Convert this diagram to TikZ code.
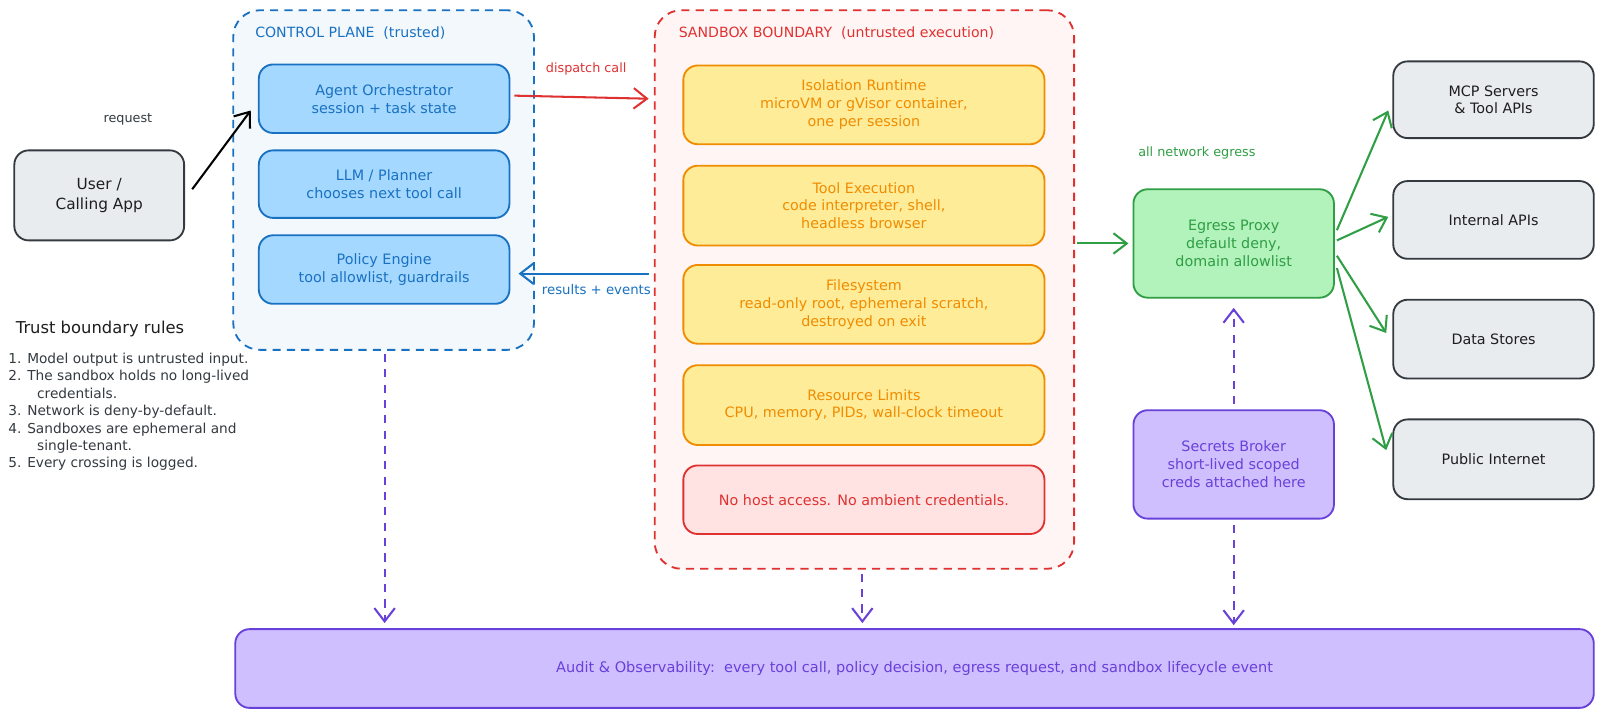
\documentclass[tikz,border=0pt]{standalone}
\usepackage{fontspec}
\setmainfont{DejaVu Sans}
\usetikzlibrary{arrows.meta}
\definecolor{cblue}{HTML}{1971C2}
\definecolor{cbluefill}{HTML}{A5D8FF}
\definecolor{cbluebg}{HTML}{F3F8FD}
\definecolor{cred}{HTML}{E03131}
\definecolor{credfill}{HTML}{FFE3E3}
\definecolor{credbg}{HTML}{FFF5F5}
\definecolor{corange}{HTML}{F08C00}
\definecolor{cyellow}{HTML}{FFEC99}
\definecolor{cgreen}{HTML}{2F9E44}
\definecolor{cgreenfill}{HTML}{B2F2BB}
\definecolor{cviolet}{HTML}{6741D9}
\definecolor{cvioletfill}{HTML}{D0BFFF}
\definecolor{cgray}{HTML}{343A40}
\definecolor{cgrayfill}{HTML}{E9ECEF}
\definecolor{cink}{HTML}{1E1E1E}
\begin{document}
\begin{tikzpicture}[x=1pt,y=-1pt,
  box/.style={rounded corners=14pt, line width=1.8pt, align=center, inner sep=2pt,
    font=\fontsize{14}{17.5}\selectfont},
  bluebox/.style={box, draw=cblue, fill=cbluefill, text=cblue, minimum width=245pt},
  yellowbox/.style={box, draw=corange, fill=cyellow, text=corange, minimum width=353pt},
  redbox/.style={box, draw=cred, fill=credfill, text=cred, minimum width=353pt},
  graybox/.style={box, draw=cgray, fill=cgrayfill, text=cink, minimum width=196pt},
  greenbox/.style={box, draw=cgreen, fill=cgreenfill, text=cgreen, minimum width=196pt},
  violetbox/.style={box, draw=cviolet, fill=cvioletfill, text=cviolet, minimum width=196pt},
  container/.style={rounded corners=26pt, line width=1.8pt, dash pattern=on 8pt off 6pt},
  ctitle/.style={anchor=west, font=\fontsize{13.8}{16}\selectfont},
  lbl/.style={font=\fontsize{12.5}{15}\selectfont},
  arr/.style={line width=2pt, -{Straight Barb[length=13pt,width=20pt]}},
  darr/.style={arr, draw=cviolet, dash pattern=on 8pt off 7pt}
]
\useasboundingbox (0,0) rectangle (1568,704);
\fill[white] (0,0) rectangle (1568,704);

% containers
\node[container, draw=cblue, fill=cbluebg, minimum width=294pt, minimum height=332pt] (cp) at (375,176) {};
\node[container, draw=cred, fill=credbg, minimum width=410pt, minimum height=546pt] (sb) at (845,283) {};
\node[ctitle, text=cblue] (cptitle) at (246,32) {CONTROL PLANE\ \ (trusted)};
\node[ctitle, text=cred] (sbtitle) at (660,32) {SANDBOX BOUNDARY\ \ (untrusted execution)};

% control plane boxes
\node[bluebox, minimum height=67pt] (agent) at (375.5,96.5) {Agent Orchestrator\\session + task state};
\node[bluebox, minimum height=66pt] (llm) at (375.5,180) {LLM / Planner\\chooses next tool call};
\node[bluebox, minimum height=67pt] (policy) at (375.5,263.5) {Policy Engine\\tool allowlist, guardrails};

% user
\node[graybox, minimum width=166pt, minimum height=88pt, font=\fontsize{15}{20}\selectfont] (user) at (97,191) {User /\\Calling App};
\node[lbl, text=cgray] (lreq) at (125,117) {request};

% sandbox boxes
\node[yellowbox, minimum height=77pt] (iso) at (844.5,102.5) {Isolation Runtime\\microVM or gVisor container,\\one per session};
\node[yellowbox, minimum height=78pt] (tool) at (844.5,201) {Tool Execution\\code interpreter, shell,\\headless browser};
\node[yellowbox, minimum height=77pt] (fs) at (844.5,297.5) {Filesystem\\read-only root, ephemeral scratch,\\destroyed on exit};
\node[yellowbox, minimum height=78pt] (res) at (844.5,396) {Resource Limits\\CPU, memory, PIDs, wall-clock timeout};
\node[redbox, minimum height=67pt] (nohost) at (844.5,488.5) {No host access. No ambient credentials.};

% egress side
\node[greenbox, minimum height=106pt] (egress) at (1206,238) {Egress Proxy\\default deny,\\domain allowlist};
\node[violetbox, minimum height=106pt] (secrets) at (1206,454) {Secrets Broker\\short-lived scoped\\creds attached here};
\node[lbl, text=cgreen] (legress) at (1170,150) {all network egress};

\node[graybox, minimum height=75pt] (mcp) at (1460,97.5) {MCP Servers\\\& Tool APIs};
\node[graybox, minimum height=76pt] (internal) at (1460,215) {Internal APIs};
\node[graybox, minimum height=77pt] (data) at (1460,331.5) {Data Stores};
\node[graybox, minimum height=78pt] (public) at (1460,449) {Public Internet};

% audit
\node[box, draw=cviolet, fill=cvioletfill, text=cviolet, minimum width=1328pt, minimum height=77pt,
  font=\fontsize{14.2}{17}\selectfont] (audit) at (894,653.5)
  {Audit \& Observability:\ \ every tool call, policy decision, egress request, and sandbox lifecycle event};

% trust rules
\node[anchor=west, text=cink, font=\fontsize{16}{19}\selectfont] (rtitle) at (12,322) {Trust boundary rules};
\node[anchor=north west, align=left, text=cgray, inner sep=0pt, font=\fontsize{13.4}{17}\selectfont] (rules) at (8,345)
  {1. Model output is untrusted input.\\
   2. The sandbox holds no long-lived\\
   \hspace*{2.1em}credentials.\\
   3. Network is deny-by-default.\\
   4. Sandboxes are ephemeral and\\
   \hspace*{2.1em}single-tenant.\\
   5. Every crossing is logged.};

% connectors
\draw[arr, draw=black] ([shift={(7,-6)}]user.east) -- ([shift={(-7,11.5)}]agent.west);
\draw[arr, draw=cred] ([shift={(4,-3)}]agent.east) -- ([xshift=-5pt]sb.west |- agent.east);
\node[lbl, text=cred] (ldispatch) at (573,67) {dispatch call};
\draw[arr, draw=cblue] ([shift={(-5,4)}]sb.west |- policy.east) -- ([shift={(8,4)}]policy.east);
\node[lbl, text=cblue, font=\fontsize{13}{15}\selectfont] (lresults) at (583,283) {results + events};
\draw[arr, draw=cgreen] ([xshift=2pt]sb.east |- egress.west) -- ([xshift=-4pt]egress.west);

\draw[arr, draw=cgreen] ([shift={(2,-13)}]egress.east) -- ([shift={(-4,10.5)}]mcp.west);
\draw[arr, draw=cgreen] ([shift={(2,-3)}]egress.east) -- ([shift={(-4,-3)}]internal.west);
\draw[arr, draw=cgreen] ([shift={(2,12)}]egress.east) -- ([shift={(-6,-6)}]data.west);
\draw[arr, draw=cgreen] ([shift={(2,24)}]egress.east) -- ([shift={(-6,-9)}]public.west);

\draw[darr] ([shift={(0,-5)}]secrets.north) -- ([shift={(0,9)}]egress.south);
\draw[darr] ([shift={(0,5)}]secrets.south) -- ([shift={(0,-3)}]secrets.south |- audit.north);
\draw[darr] ([shift={(1,3)}]cp.south) -- ([shift={(1,-5)}]cp.south |- audit.north);
\draw[darr] ([shift={(-2,4)}]sb.south) -- ([shift={(-2,-5)}]sb.south |- audit.north);
\end{tikzpicture}
\end{document}
